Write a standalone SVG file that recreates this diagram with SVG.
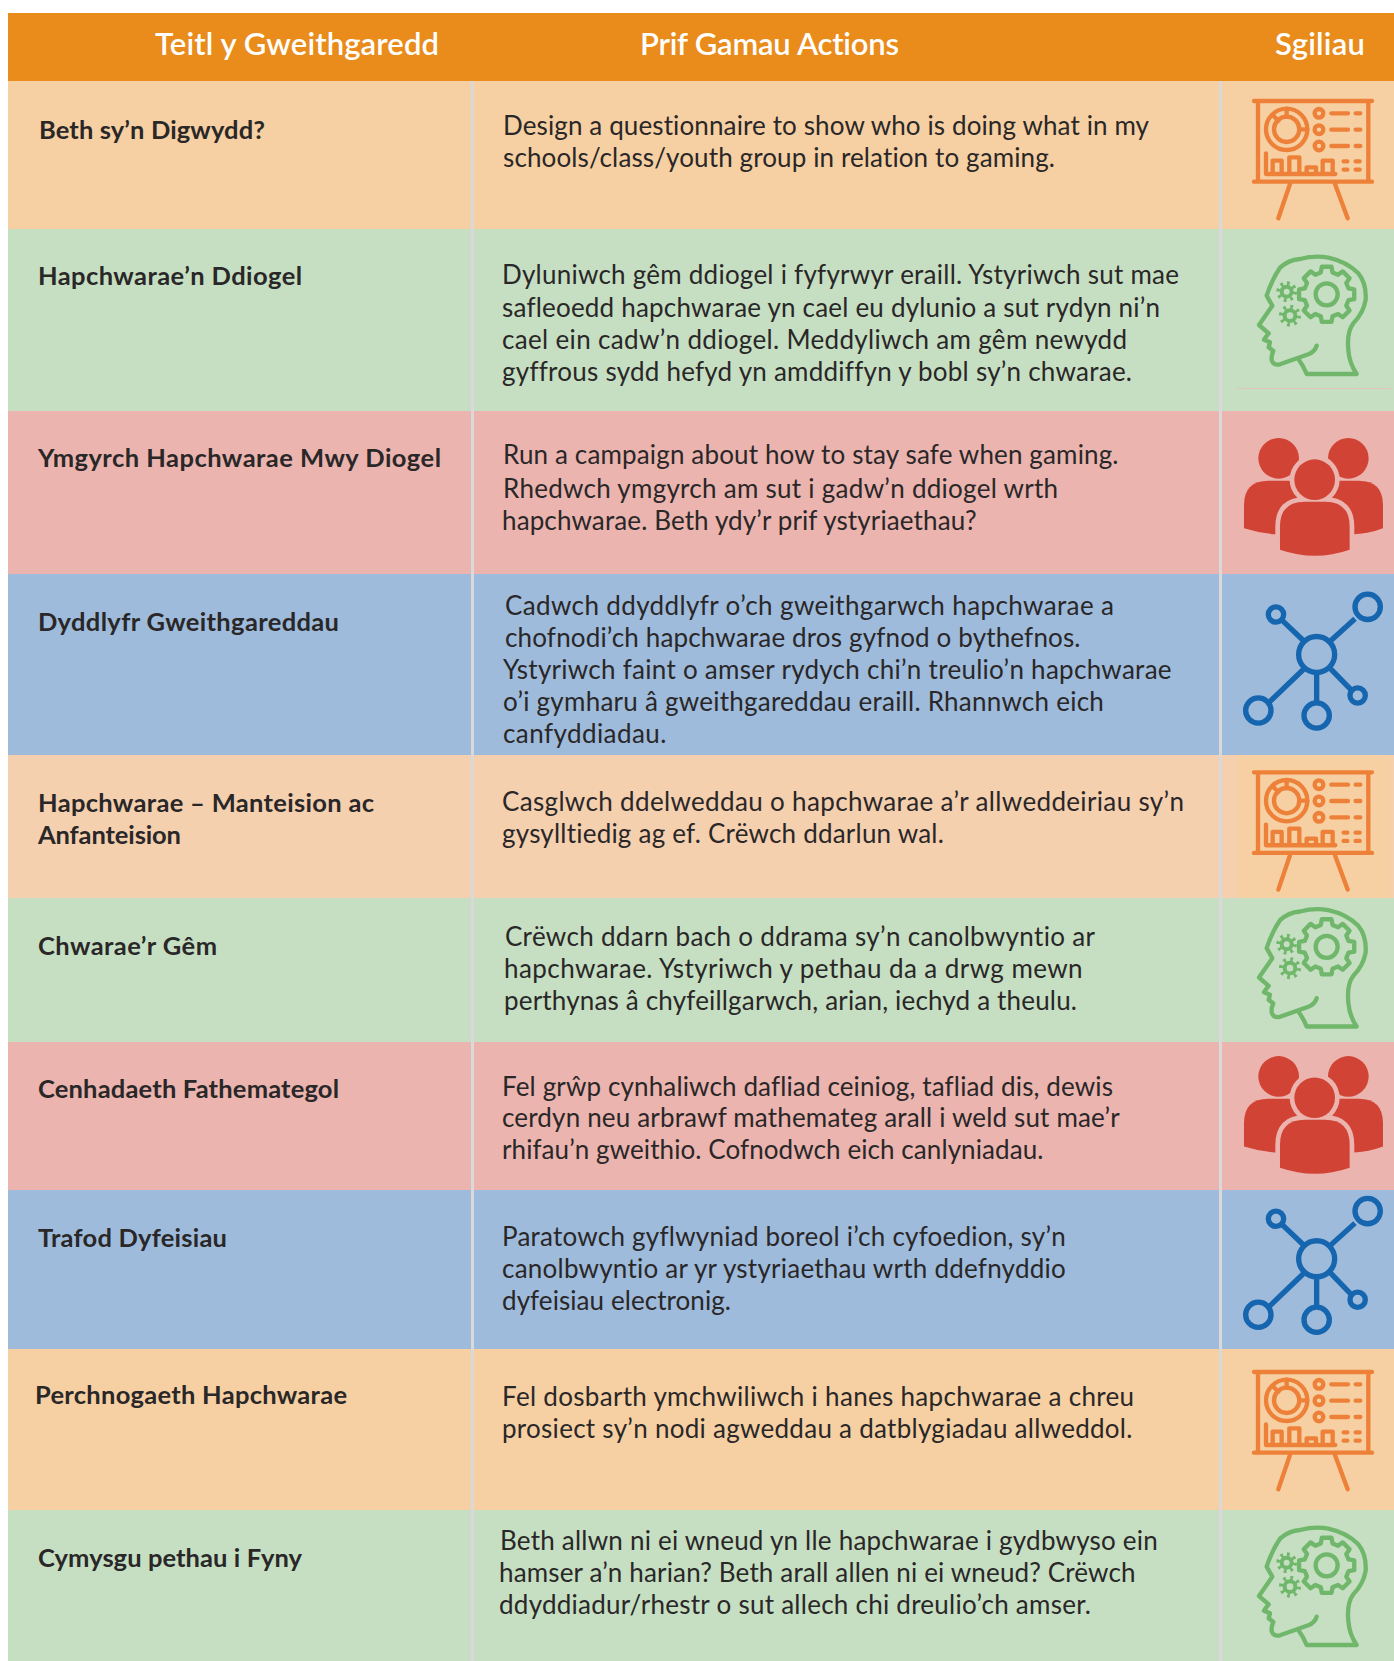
<svg xmlns="http://www.w3.org/2000/svg" xmlns:xlink="http://www.w3.org/1999/xlink" width="1394" height="1661" viewBox="0 0 1394 1661">
<style>
.o{fill:#F6D0A2}.g{fill:#C6DFC2}.r{fill:#EBB4AF}.b{fill:#9EBBDB}
text{font-family:"Lato","Open Sans","Liberation Sans",sans-serif;fill:#2A2728;font-variant-ligatures:none}
.h{font-size:31px;font-weight:600;fill:#fff}
.t{font-size:25.5px;font-weight:700}
.x{font-size:26px}
.div{stroke:#D9D9D9;stroke-width:3}
.ln{fill:none;stroke-linecap:round;stroke-linejoin:round;stroke-width:13}
</style>
<defs>
<g id="board" class="ln" stroke="#EE8139">
<path d="M162,93H516M162,335H516M174,93V335M505,93V335M270,342L235,445M405,342L443,445"/>
<circle cx="260" cy="178" r="62"/><circle cx="260" cy="178" r="38"/>
<path d="M260,116V140M218,135L235,152M298,178H322"/>
<circle cx="357" cy="130" r="13"/><circle cx="357" cy="179" r="13"/><circle cx="357" cy="228" r="13"/>
<path d="M394,130H444M467,130H481M394,179H444M467,179H481M394,228H444M467,228H481M431,274H442M467,274H479M431,299H442M467,299H479"/>
<path d="M198,250V312H406M218,312V272H245V312M268,312V262H298V312M320,312V292H348V312M368,312V272H398V312"/>
</g>
<g id="head" class="ln" stroke="#70B76C">
<path d="M350,332Q345,350 325,358L240,388Q222,392 216,378Q212,365 220,348L206,337L210,322L192,314Q200,302 206,295L177,270L217,212L200,182Q215,135 240,98Q265,75 300,72Q345,60 385,68Q440,80 475,115Q500,145 497,195Q490,235 460,265Q440,290 445,345Q448,385 470,417H320Q310,392 295,372"/>
<path transform="translate(380,178)" d="M65.7,-17.6L82.7,-14.6V14.6L65.7,17.6L58.9,34L68.8,48.2L48.2,68.8L34,58.9L17.6,65.7L14.6,82.7H-14.6L-17.6,65.7L-34,58.9L-48.2,68.8L-68.8,48.2L-58.9,34L-65.7,17.6L-82.7,14.6V-14.6L-65.7,-17.6L-58.9,-34L-68.8,-48.2L-48.2,-68.8L-34,-58.9L-17.6,-65.7L-14.6,-82.7H14.6L17.6,-65.7L34,-58.9L48.2,-68.8L68.8,-48.2L58.9,-34Z"/>
<circle cx="380" cy="178" r="33"/>
<circle cx="260" cy="170" r="15" stroke-width="12"/><circle cx="260" cy="170" r="24" stroke-width="14" stroke-dasharray="8 10.85" stroke-linecap="butt"/>
<circle cx="270" cy="242" r="16" stroke-width="12"/><circle cx="270" cy="242" r="26" stroke-width="14" stroke-dasharray="8 12.42" stroke-linecap="butt"/>
</g>
<g id="people" fill="#D14335">
<circle cx="236" cy="130" r="61"/><circle cx="445" cy="130" r="61"/>
<path d="M132,340Q180,355 225,358H463Q510,355 549,340V270Q549,197 476,197H205Q132,197 132,270Z"/>
<circle cx="344" cy="194" r="75" fill="#EBB4AF"/>
<path d="M240,404V335Q240,260 315,260H375Q449,260 449,335V404Q345,440 240,404Z" stroke="#EBB4AF" stroke-width="28"/>
<path d="M240,404V335Q240,260 315,260H375Q449,260 449,335V404Q345,440 240,404Z"/>
<circle cx="344" cy="194" r="61"/>
</g>
<g id="net" fill="none" stroke="#1565AF" stroke-width="16">
<path d="M245,613L310,675M465,610L392,676M310,762L208,860M350,775V860M392,760L452,822"/>
<circle cx="350" cy="717" r="54"/><circle cx="228" cy="597" r="23"/><circle cx="503" cy="574" r="38"/>
<circle cx="175" cy="885" r="38"/><circle cx="350" cy="900" r="38"/><circle cx="473" cy="840" r="23"/>
</g>
</defs>
<rect width="1394" height="1661" fill="#fff"/>
<g id="header">
<rect x="8" y="13" width="1386" height="68" fill="#E98C1B"/>
<text class="h" x="155" y="55" textLength="284" lengthAdjust="spacing">Teitl y Gweithgaredd</text>
<text class="h" x="640" y="54.5" textLength="259" lengthAdjust="spacing">Prif Gamau Actions</text>
<text class="h" x="1275" y="54.5" textLength="90" lengthAdjust="spacing">Sgiliau</text>
</g>
<g id="row1">
<rect class="o" x="8" y="81" width="1386" height="148"/>
<text class="t" x="39" y="138.5" textLength="226">Beth sy’n Digwydd?</text>
<text class="x" x="503" y="134.5" textLength="646">Design a questionnaire to show who is doing what in my</text>
<text class="x" x="503" y="166.8" textLength="552">schools/class/youth group in relation to gaming.</text>
<use xlink:href="#board" href="#board" transform="translate(1200,70) scale(.3333)"/>
</g>
<g id="row2">
<rect class="g" x="8" y="229" width="1386" height="182"/>
<text class="t" x="38" y="284.5" textLength="264">Hapchwarae’n Ddiogel</text>
<text class="x" x="502" y="284" textLength="677">Dyluniwch gêm ddiogel i fyfyrwyr eraill. Ystyriwch sut mae</text>
<text class="x" x="502" y="316.7" textLength="658">safleoedd hapchwarae yn cael eu dylunio a sut rydyn ni’n</text>
<text class="x" x="502" y="348.5" textLength="625">cael ein cadw’n ddiogel. Meddyliwch am gêm newydd</text>
<text class="x" x="502" y="381.3" textLength="630">gyffrous sydd hefyd yn amddiffyn y bobl sy’n chwarae.</text>
<use xlink:href="#head" href="#head" transform="translate(1200,235) scale(.3333)"/>
<path d="M1237,388.500H1391" stroke="#E0C8B8" stroke-width="1"/>
</g>
<g id="row3">
<rect class="r" x="8" y="411" width="1386" height="163"/>
<text class="t" x="38" y="466.5" textLength="403">Ymgyrch Hapchwarae Mwy Diogel</text>
<text class="x" x="503" y="464" textLength="615.500">Run a campaign about how to stay safe when gaming.</text>
<text class="x" x="503" y="498" textLength="555">Rhedwch ymgyrch am sut i gadw’n ddiogel wrth</text>
<text class="x" x="502" y="529.600" textLength="474.700">hapchwarae. Beth ydy’r prif ystyriaethau?</text>
<use xlink:href="#people" href="#people" transform="translate(1200,415) scale(.3333)"/>
</g>
<g id="row4">
<rect class="b" x="8" y="574" width="1386" height="181"/>
<text class="t" x="38" y="630.5" textLength="301">Dyddlyfr Gweithgareddau</text>
<text class="x" x="505" y="615.400" textLength="609">Cadwch ddyddlyfr o’ch gweithgarwch hapchwarae a</text>
<text class="x" x="505" y="647" textLength="575.500">chofnodi’ch hapchwarae dros gyfnod o bythefnos.</text>
<text class="x" x="503" y="679" textLength="668.600">Ystyriwch faint o amser rydych chi’n treulio’n hapchwarae</text>
<text class="x" x="503" y="710.500" textLength="600.800">o’i gymharu â gweithgareddau eraill. Rhannwch eich</text>
<text class="x" x="503" y="742.600" textLength="163.300">canfyddiadau.</text>
<use xlink:href="#net" href="#net" transform="translate(1200,415.500) scale(.3333)"/>
</g>
<g id="row5">
<rect x="8" y="755" width="1386" height="143" fill="#F5D0AF"/>
<rect class="o" x="1237" y="755" width="154" height="143"/>
<text class="t" x="38" y="811.5" textLength="336">Hapchwarae – Manteision ac</text>
<text class="t" x="38" y="843.5" textLength="143">Anfanteision</text>
<text class="x" x="502" y="811.400" textLength="682">Casglwch ddelweddau o hapchwarae a’r allweddeiriau sy’n</text>
<text class="x" x="502" y="843" textLength="441.800">gysylltiedig ag ef. Crëwch ddarlun wal.</text>
<use xlink:href="#board" href="#board" transform="translate(1200,741.300) scale(.3333)"/>
</g>
<g id="row6">
<rect class="g" x="8" y="898" width="1386" height="144"/>
<text class="t" x="38" y="954.5" textLength="179">Chwarae’r Gêm</text>
<text class="x" x="505" y="946" textLength="590">Crëwch ddarn bach o ddrama sy’n canolbwyntio ar</text>
<text class="x" x="504" y="977.700" textLength="578.600">hapchwarae. Ystyriwch y pethau da a drwg mewn</text>
<text class="x" x="504" y="1009.500" textLength="573">perthynas â chyfeillgarwch, arian, iechyd a theulu.</text>
<use xlink:href="#head" href="#head" transform="translate(1200,887.500) scale(.3333)"/>
</g>
<g id="row7">
<rect class="r" x="8" y="1042" width="1386" height="148"/>
<text class="t" x="38" y="1097.5" textLength="301">Cenhadaeth Fathemategol</text>
<text class="x" x="502" y="1096.400" textLength="611">Fel grŵp cynhaliwch dafliad ceiniog, tafliad dis, dewis</text>
<text class="x" x="502" y="1127" textLength="617.700">cerdyn neu arbrawf mathemateg arall i weld sut mae’r</text>
<text class="x" x="502" y="1158.900" textLength="541.400">rhifau’n gweithio. Cofnodwch eich canlyniadau.</text>
<use xlink:href="#people" href="#people" transform="translate(1200,1033.100) scale(.3333)"/>
</g>
<g id="row8">
<rect class="b" x="8" y="1190" width="1386" height="159"/>
<text class="t" x="38" y="1246.5" textLength="189">Trafod Dyfeisiau</text>
<text class="x" x="502" y="1245.700" textLength="563.700">Paratowch gyflwyniad boreol i’ch cyfoedion, sy’n</text>
<text class="x" x="502" y="1277.500" textLength="563.700">canolbwyntio ar yr ystyriaethau wrth ddefnyddio</text>
<text class="x" x="502" y="1310.300" textLength="229">dyfeisiau electronig.</text>
<use xlink:href="#net" href="#net" transform="translate(1200,1019.800) scale(.3333)"/>
</g>
<g id="row9">
<rect class="o" x="8" y="1349" width="1386" height="161"/>
<text class="t" x="35" y="1403.5" textLength="312">Perchnogaeth Hapchwarae</text>
<text class="x" x="502" y="1405.700" textLength="632">Fel dosbarth ymchwiliwch i hanes hapchwarae a chreu</text>
<text class="x" x="502" y="1437.500" textLength="630.400">prosiect sy’n nodi agweddau a datblygiadau allweddol.</text>
<use xlink:href="#board" href="#board" transform="translate(1200,1341) scale(.3333)"/>
</g>
<g id="row10">
<rect class="g" x="8" y="1510" width="1386" height="151"/>
<text class="t" x="38" y="1566.5" textLength="264">Cymysgu pethau i Fyny</text>
<text class="x" x="500" y="1549.800" textLength="657.800">Beth allwn ni ei wneud yn lle hapchwarae i gydbwyso ein</text>
<text class="x" x="499" y="1581.500" textLength="636.600">hamser a’n harian? Beth arall allen ni ei wneud? Crëwch</text>
<text class="x" x="499" y="1614.300" textLength="592">ddyddiadur/rhestr o sut allech chi dreulio’ch amser.</text>
<use xlink:href="#head" href="#head" transform="translate(1200,1506) scale(.3333)"/>
</g>
<g id="dividers">
<path class="div" d="M472.500,81V1661M1220.500,81V1661"/>
</g>
</svg>
